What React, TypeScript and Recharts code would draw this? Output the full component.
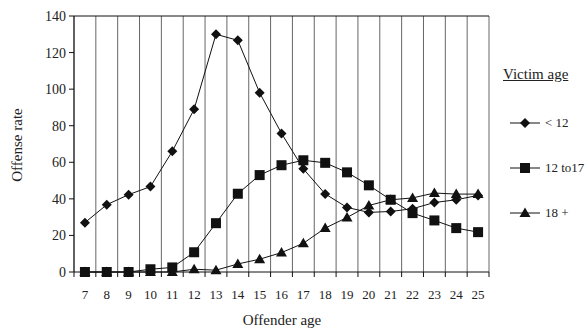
import { ComposedChart, Line, XAxis, YAxis, CartesianGrid, ReferenceLine } from 'recharts';

const ages = [7, 8, 9, 10, 11, 12, 13, 14, 15, 16, 17, 18, 19, 20, 21, 22, 23, 24, 25];
const under12 = [27, 36.8, 42.3, 46.7, 66, 89, 130, 126.7, 98, 75.8, 56.4, 42.7, 35.3, 32.6, 33.1, 34.6, 38, 39.5, 41.9];
const teen = [0, 0, 0, 1.5, 2.5, 10.8, 26.7, 42.8, 53, 58.4, 61.1, 59.7, 54.5, 47.4, 39.5, 32.2, 28.2, 24, 21.8];
const adult = [0, 0, 0, 0, 0, 1.5, 1, 4.4, 7, 10.6, 15.7, 24, 29.8, 36.4, 39.5, 40.5, 43.2, 42.6, 42.6];
const yTicks = [0, 20, 40, 60, 80, 100, 120, 140];
const bounds = [6.5, 7.5, 8.5, 9.5, 10.5, 11.5, 12.5, 13.5, 14.5, 15.5, 16.5, 17.5, 18.5, 19.5, 20.5, 21.5, 22.5, 23.5, 24.5, 25.5];
const legendItems = [
  { label: '< 12', shape: 'diamond' },
  { label: '12 to17', shape: 'square' },
  { label: '18 +', shape: 'triangle' },
];

const data = ages.map((age, i) => ({ age, under12: under12[i], teen: teen[i], adult: adult[i] }));

const FONT = '"Liberation Serif", "Times New Roman", serif';
const BAND = 415 / ages.length;

const Marker = ({ cx, cy, shape }: any) => {
  if (cx == null || cy == null) return null;
  if (shape === 'diamond') {
    return <polygon points={`${cx},${cy - 5} ${cx + 5},${cy} ${cx},${cy + 5} ${cx - 5},${cy}`} fill="#111" />;
  }
  if (shape === 'square') {
    return <rect x={cx - 5} y={cy - 5} width={10} height={10} fill="#111" />;
  }
  return <polygon points={`${cx},${cy - 5.5} ${cx + 5.5},${cy + 4} ${cx - 5.5},${cy + 4}`} fill="#111" />;
};

const AgeTick = ({ x, y, payload }: any) => {
  const v = payload.value;
  return (
    <g>
      <line x1={x} x2={x} y1={y - 5} y2={y} stroke="#111" />
      {v < 25.5 && (
        <text x={x + BAND / 2} y={y + 22} textAnchor="middle" fontSize={13} fontFamily={FONT} fill="#222">
          {v + 0.5}
        </text>
      )}
    </g>
  );
};

const LegendIcon = ({ shape }: { shape: string }) => (
  <svg width={32} height={12} style={{ display: 'block' }}>
    <line x1={0} x2={30} y1={6} y2={6} stroke="#111" />
    <Marker cx={15} cy={6} shape={shape} />
  </svg>
);

export default function App() {
  return (
    <div style={{ position: 'absolute', left: 0, top: 0, width: 587, height: 329, background: '#fff', fontFamily: FONT }}>
      <ComposedChart width={587} height={329} data={data} margin={{ top: 16, right: 98, bottom: 27, left: 14 }}>
        <CartesianGrid horizontal={false} stroke="#666" xAxisId="x" />
        <XAxis
          xAxisId="x"
          dataKey="age"
          type="number"
          domain={[6.5, 25.5]}
          ticks={bounds}
          interval={0}
          tickLine={false}
          tickSize={5}
          tickMargin={0}
          height={30}
          axisLine={{ stroke: '#111' }}
          tick={<AgeTick />}
        />
        <YAxis
          domain={[0, 140]}
          ticks={yTicks}
          interval={0}
          width={60}
          tickSize={5}
          tickMargin={3}
          axisLine={{ stroke: '#111' }}
          tickLine={{ stroke: '#111' }}
          tick={{ fontSize: 14, fontFamily: FONT, fill: '#222' }}
        />
        <ReferenceLine xAxisId="x" y={140} stroke="#111" />
        <Line xAxisId="x" dataKey="under12" stroke="#111" strokeWidth={1} isAnimationActive={false} dot={<Marker shape="diamond" />} />
        <Line xAxisId="x" dataKey="teen" stroke="#111" strokeWidth={1} isAnimationActive={false} dot={<Marker shape="square" />} />
        <Line xAxisId="x" dataKey="adult" stroke="#111" strokeWidth={1} isAnimationActive={false} dot={<Marker shape="triangle" />} />
      </ComposedChart>

      <div style={{ position: 'absolute', left: 0, top: 145, fontSize: 15, color: '#222' }}>
        <div style={{ position: 'absolute', left: 17, top: 0, transform: 'translate(-50%, -50%) rotate(-90deg)', whiteSpace: 'nowrap' }}>
          Offense rate
        </div>
      </div>
      <div style={{ position: 'absolute', left: 212, width: 140, top: 311, textAlign: 'center', fontSize: 15, lineHeight: '18px', color: '#222' }}>
        Offender age
      </div>

      <div style={{ position: 'absolute', left: 503, top: 65, fontSize: 15, lineHeight: '18px', color: '#222', textDecoration: 'underline', whiteSpace: 'nowrap' }}>
        Victim age
      </div>
      {legendItems.map((item, i) => (
        <div key={item.label} style={{ position: 'absolute', left: 510, top: 116 + i * 45, height: 14, display: 'flex', alignItems: 'center', fontSize: 13, lineHeight: '14px', color: '#222', whiteSpace: 'nowrap' }}>
          <LegendIcon shape={item.shape} />
          <span style={{ marginLeft: 3 }}>{item.label}</span>
        </div>
      ))}
    </div>
  );
}
